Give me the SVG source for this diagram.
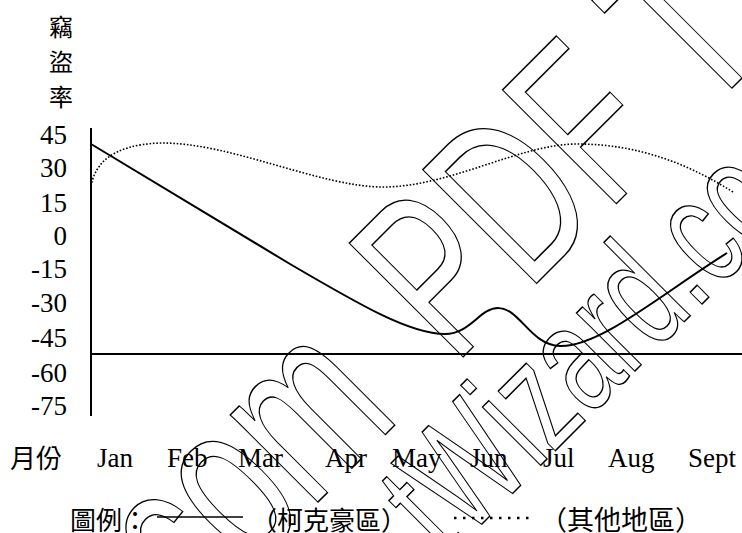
<svg xmlns="http://www.w3.org/2000/svg" width="742" height="533" viewBox="0 0 742 533">
<style>
.lat{font-family:"Liberation Serif","Times New Roman",serif;font-size:27px;fill:#000}
.cjk{font-family:"Noto Sans CJK TC","Noto Sans CJK SC",sans-serif;fill:#000}
.ax{stroke:#000;stroke-width:2;fill:none}
.wm{font-family:"Liberation Sans",Arial,sans-serif;fill:none;stroke:#000;stroke-width:1}
</style>
<rect width="742" height="533" fill="#fff"/>
<g id="watermark">
<text class="wm" font-size="156" transform="translate(215,605) rotate(-45) scale(1,1.5)"><tspan x="-30">com</tspan><tspan x="338">PDF T</tspan></text>
<text class="wm" font-size="104" transform="translate(446,560) rotate(-45) scale(1,1.5)">tWizard.co</text>
</g>
<g id="title" class="cjk" font-size="24" text-anchor="middle">
<text x="61" y="36">竊</text>
<text x="61" y="71">盜</text>
<text x="61" y="106">率</text>
</g>
<g id="y-labels" class="lat" text-anchor="end">
<text x="67" y="144">45</text>
<text x="67" y="177">30</text>
<text x="67" y="212">15</text>
<text x="67" y="245">0</text>
<text x="67" y="278">-15</text>
<text x="67" y="312">-30</text>
<text x="67" y="347">-45</text>
<text x="67" y="382">-60</text>
<text x="67" y="415">-75</text>
</g>
<g id="axes">
<line class="ax" x1="91" y1="128" x2="91" y2="416"/>
<line class="ax" x1="90" y1="354" x2="742" y2="354"/>
</g>
<g id="x-labels">
<text class="cjk" font-size="26" x="10" y="468">月份</text>
<g class="lat">
<text x="97" y="467">Jan</text>
<text x="167" y="467">Feb</text>
<text x="238" y="467">Mar</text>
<text x="325" y="467">Apr</text>
<text x="392" y="467">May</text>
<text x="470" y="467">Jun</text>
<text x="543" y="467">Jul</text>
<text x="608" y="467">Aug</text>
<text x="688" y="467">Sept</text>
</g>
</g>
<g id="series">
<path id="kirkholt" d="M91,144 L290,264 C360,305 410,334 445,334 C470,334 480,308 498,308 C520,308 530,345 560,346 C600,347 660,295 727,253" fill="none" stroke="#000" stroke-width="2"/>
<path id="others" d="M91,186 C95,165 110,145 160,143 C230,142 320,187 383,187 C450,187 520,144 577,144 C640,144 690,165 733,192" fill="none" stroke="#000" stroke-width="1.6" stroke-dasharray="1.6 1.8"/>
</g>
<g id="legend">
<text class="cjk" font-size="26" x="70" y="530">圖例：</text>
<line x1="157" y1="517" x2="243" y2="517" stroke="#000" stroke-width="1.5"/>
<text class="cjk" font-size="26" x="251" y="530">（柯克豪區）</text>
<line x1="454" y1="518" x2="534" y2="518" stroke="#000" stroke-width="2.5" stroke-dasharray="2.5 6.5"/>
<text class="cjk" font-size="27" x="540" y="530">（其他地區）</text>
</g>
</svg>
